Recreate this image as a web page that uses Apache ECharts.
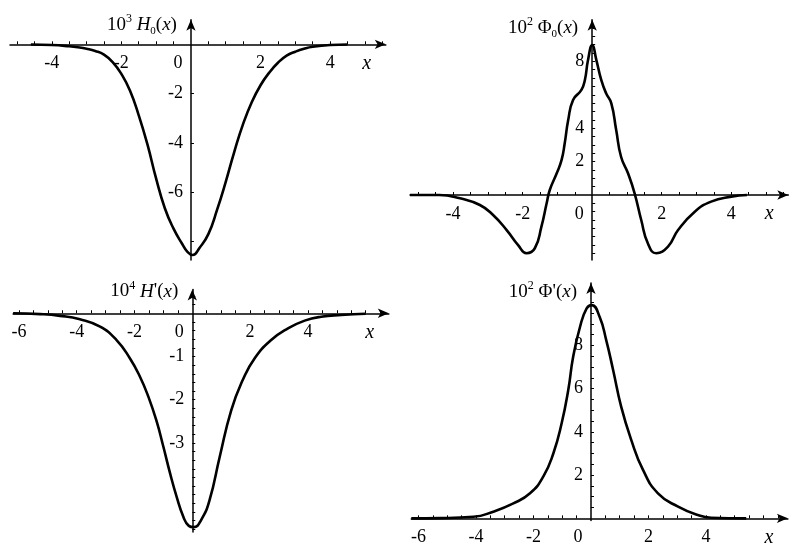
<!DOCTYPE html>
<html>
<head>
<meta charset="utf-8">
<script src="https://cdn.jsdelivr.net/npm/echarts@6.0.0/dist/echarts.min.js"></script>
<style>
  html, body { margin: 0; padding: 0; background: #fff; }
  #main { width: 811px; height: 559px; }
</style>
</head>
<body>
<div id="main"></div>
<script>
// ---- values ----
// top-left: 10^3 H0(x)
const h0X = [-4.6, -4, -3.5, -3.25, -3, -2.75, -2.5, -2.25, -2, -1.75, -1.5, -1.25, -1, -0.75, -0.5, -0.25, -0.1, 0.05,
  0.25, 0.5, 0.75, 1, 1.25, 1.5, 1.75, 2, 2.25, 2.5, 2.75, 3, 3.25, 3.5, 4, 4.5]
const h0Y = [-0.01, -0.03, -0.08, -0.12, -0.18, -0.27, -0.42, -0.72, -1.2, -1.88, -2.88, -4.06, -5.45, -6.65, -7.48, -8.1, -8.42, -8.55,
  -8.25, -7.7, -6.72, -5.58, -4.34, -3.23, -2.34, -1.66, -1.15, -0.75, -0.46, -0.3, -0.18, -0.1, -0.03, -0.01]

// top-right: 10^2 Phi0(x)
const phi0X = [-5.24, -4.4, -3.8, -3.23, -2.85, -2.46, -2.13, -1.89, -1.65, -1.46, -1.31, -1.22, -1.02, -0.88, -0.79, -0.69, -0.55, -0.31, -0.21, -0.12, 0,
  0.12, 0.26, 0.4, 0.55, 0.69, 0.83, 1.03, 1.22, 1.41, 1.6, 1.84, 2.18, 2.47, 2.95, 3.42, 4.0, 4.45]
const phi0Y = [0, 0, -0.2, -0.6, -1.2, -2.1, -3.0, -3.49, -3.19, -1.9, -0.5, 0.3, 1.3, 2.1, 3.1, 4.49, 5.69, 6.29, 6.89, 8.08, 8.98,
  8.08, 6.89, 6.09, 5.49, 3.89, 2.29, 1.3, 0.1, -1.5, -2.89, -3.49, -3.09, -2.1, -1.0, -0.4, -0.1, 0]

// bottom-left: 10^4 H'(x)
const hpX = [-6.2, -5.27, -4.58, -3.89, -3.19, -2.62, -2.16, -1.81, -1.52, -1.23, -1.0, -0.77, -0.54, -0.31, -0.12,
  0.05, 0.31, 0.6, 0.95, 1.35, 1.75, 2.16, 2.73, 3.31, 3.89, 4.46, 5.16, 6.0]
const hpY = [0, -0.02, -0.06, -0.14, -0.31, -0.62, -1.04, -1.47, -1.93, -2.51, -3.09, -3.7, -4.25, -4.71, -4.92,
  -4.95, -4.78, -4.32, -3.32, -2.24, -1.54, -1.04, -0.62, -0.35, -0.17, -0.08, -0.04, -0.01]

// bottom-right: 10^2 Phi'(x)
const phipX = [-6.25, -5.25, -4.09, -3.4, -2.7, -2.12, -1.66, -1.31, -1.02, -0.79, -0.62, -0.38, -0.15, 0.03,
  0.3, 0.53, 0.77, 1.05, 1.4, 1.81, 2.33, 3.03, 3.72, 4.18, 5.4]
const phipY = [0, 0.01, 0.07, 0.31, 0.69, 1.16, 1.93, 3.0, 4.4, 5.94, 7.48, 8.87, 9.72, 9.87,
  9.33, 8.25, 6.87, 5.17, 3.63, 2.24, 1.16, 0.54, 0.15, 0.03, 0]

// ---- ticks and tick labels ----
const xTicksTop = [-5, -4.5, -4, -3.5, -3, -2.5, -2, -1.5, -1, -0.5, 0.5, 1, 1.5, 2, 2.5, 3, 3.5, 4, 4.5, 5, 5.5]
const xTicksBottom = [-6, -5.5, -5, -4.5, -4, -3.5, -3, -2.5, -2, -1.5, -1, -0.5, 0.5, 1, 1.5, 2, 2.5, 3, 3.5, 4, 4.5, 5, 5.5, 6, 6.5]
const xLabelsTop = [-4, -2, 0, 2, 4]
const xLabelsBottom = [-6, -4, -2, 0, 2, 4]

const yTicksH0 = [-8, -6, -4, -2]
const yLabelsH0 = [-6, -4, -2]
const yTicksPhi0 = [-3.5, -3, -2.5, -2, -1.5, -1, -0.5, 0.5, 1, 1.5, 2, 2.5, 3, 3.5, 4, 4.5, 5, 5.5, 6, 6.5, 7, 7.5, 8, 8.5, 9, 9.5, 10]
const yLabelsPhi0 = [2, 4, 8]
const yTicksHp = [-5, -4.8, -4.6, -4.4, -4.2, -4, -3.8, -3.6, -3.4, -3.2, -3, -2.8, -2.6, -2.4, -2.2, -2, -1.8, -1.6, -1.4, -1.2, -1,
  -0.8, -0.6, -0.4, -0.2, 0.2, 0.4]
const yLabelsHp = [-3, -2, -1]
const yTicksPhip = [0.5, 1, 1.5, 2, 2.5, 3, 3.5, 4, 4.5, 5, 5.5, 6, 6.5, 7, 7.5, 8, 8.5, 9, 9.5, 10, 10.5]
const yLabelsPhip = [2, 4, 6, 8]

const FONT = "'Liberation Serif', 'Times New Roman', serif"

// rich styles for the axis titles (superscript / subscript / italic)
const titleRich = {
  n: { fontFamily: FONT, fontSize: 19, color: '#000', lineHeight: 24 },
  sup: { fontFamily: FONT, fontSize: 12, color: '#000', verticalAlign: 'top', lineHeight: 14 },
  sub: { fontFamily: FONT, fontSize: 11, color: '#000', verticalAlign: 'bottom', lineHeight: 12 },
  i: { fontFamily: FONT, fontSize: 19, fontStyle: 'italic', color: '#000', lineHeight: 24 }
}

// panels: pixel box, axis ranges, ticks, title
const panels = [
  { box: [10, 19.65, 375.8, 240.35], xr: [-5.2, 5.6], yr: [-8.75, 1], xs: h0X, ys: h0Y,
    xt: xTicksTop, xl: xLabelsTop, yt: yTicksH0, yl: yLabelsH0, gap: -5,
    title: '{n|10}{sup|3}{n| }{i|H}{sub|0}{n|(}{i|x}{n|)}' },
  { box: [410, 19.65, 378.3, 240.45], xr: [-5.24, 5.64], yr: [-3.9, 10.5], xs: phi0X, ys: phi0Y,
    xt: xTicksTop, xl: xLabelsTop, yt: yTicksPhi0, yl: yLabelsPhi0, gap: -8,
    title: '{n|10}{sup|2}{n| Φ}{sub|0}{n|(}{i|x}{n|)}' },
  { box: [13.1, 289.5, 375.7, 242.4], xr: [-6.2, 6.8], yr: [-5.06, 0.55], xs: hpX, ys: hpY,
    xt: xTicksBottom, xl: xLabelsBottom, yt: yTicksHp, yl: yLabelsHp, gap: -2,
    title: "{n|10}{sup|4}{n| }{i|H}{n|'(}{i|x}{n|)}" },
  { box: [411.3, 282.9, 376.6, 237.6], xr: [-6.25, 6.85], yr: [-0.1, 10.9], xs: phipX, ys: phipY,
    xt: xTicksBottom, xl: xLabelsBottom, yt: yTicksPhip, yl: yLabelsPhip, gap: -9,
    title: "{n|10}{sup|2}{n| Φ'(}{i|x}{n|)}" }
]

// the axes cross at the origin: shift them there from the grid edges
function xAxisOffset(p) {
  const zeroY = p.box[1] + p.box[3] * p.yr[1] / (p.yr[1] - p.yr[0])
  return zeroY - (p.box[1] + p.box[3])
}
function yAxisOffset(p) {
  const zeroX = p.box[0] + p.box[2] * (-p.xr[0]) / (p.xr[1] - p.xr[0])
  return p.box[0] - zeroX
}

const axisLineStyle = { color: '#000', width: 1.5 }

const option = {
  animation: false,
  backgroundColor: '#fff',
  grid: panels.map(p => ({
    left: p.box[0], top: p.box[1], width: p.box[2], height: p.box[3],
    containLabel: false, outerBoundsMode: 'none'
  })),
  xAxis: panels.map((p, i) => ({
    type: 'value', gridIndex: i, min: p.xr[0], max: p.xr[1],
    position: 'bottom', offset: xAxisOffset(p),
    splitLine: { show: false },
    axisLine: { onZero: false, lineStyle: axisLineStyle, symbol: ['none', 'arrow'], symbolSize: [7, 11] },
    axisTick: { show: true, inside: true, length: 3, customValues: p.xt, lineStyle: { color: '#000', width: 1 } },
    axisLabel: {
      customValues: p.xl, margin: 10, color: '#000', fontFamily: FONT, fontSize: 18,
      formatter: v => (v === 0 ? '{z|0}' : String(v)),
      rich: { z: { fontFamily: FONT, fontSize: 18, color: '#000', padding: [0, 26, 0, 0] } }
    },
    name: 'x', nameLocation: 'end', nameGap: -19, nameMoveOverlap: false,
    nameTextStyle: {
      fontFamily: FONT, fontSize: 20, fontStyle: 'italic', color: '#000',
      align: 'center', verticalAlign: 'top', padding: [9, 0, 0, 0]
    }
  })),
  yAxis: panels.map((p, i) => ({
    type: 'value', gridIndex: i, min: p.yr[0], max: p.yr[1],
    position: 'left', offset: yAxisOffset(p),
    splitLine: { show: false },
    axisLine: { onZero: false, lineStyle: axisLineStyle, symbol: ['none', 'arrow'], symbolSize: [7, 11] },
    axisTick: { show: true, inside: true, length: 3, customValues: p.yt, lineStyle: { color: '#000', width: 1 } },
    axisLabel: { customValues: p.yl, margin: 8, color: '#000', fontFamily: FONT, fontSize: 18 },
    name: p.title, nameLocation: 'end', nameGap: p.gap, nameMoveOverlap: false,
    nameTextStyle: {
      align: 'right', verticalAlign: 'middle', padding: [0, 14, 0, 0],
      rich: titleRich
    }
  })),
  series: panels.map((p, i) => ({
    type: 'line', xAxisIndex: i, yAxisIndex: i,
    data: p.xs.map((x, k) => [x, p.ys[k]]),
    smooth: 0.5,
    showSymbol: false, silent: true,
    lineStyle: { color: '#000', width: 2.6 }
  }))
}

const chart = echarts.init(document.getElementById('main'))
chart.setOption(option)
</script>
</body>
</html>
